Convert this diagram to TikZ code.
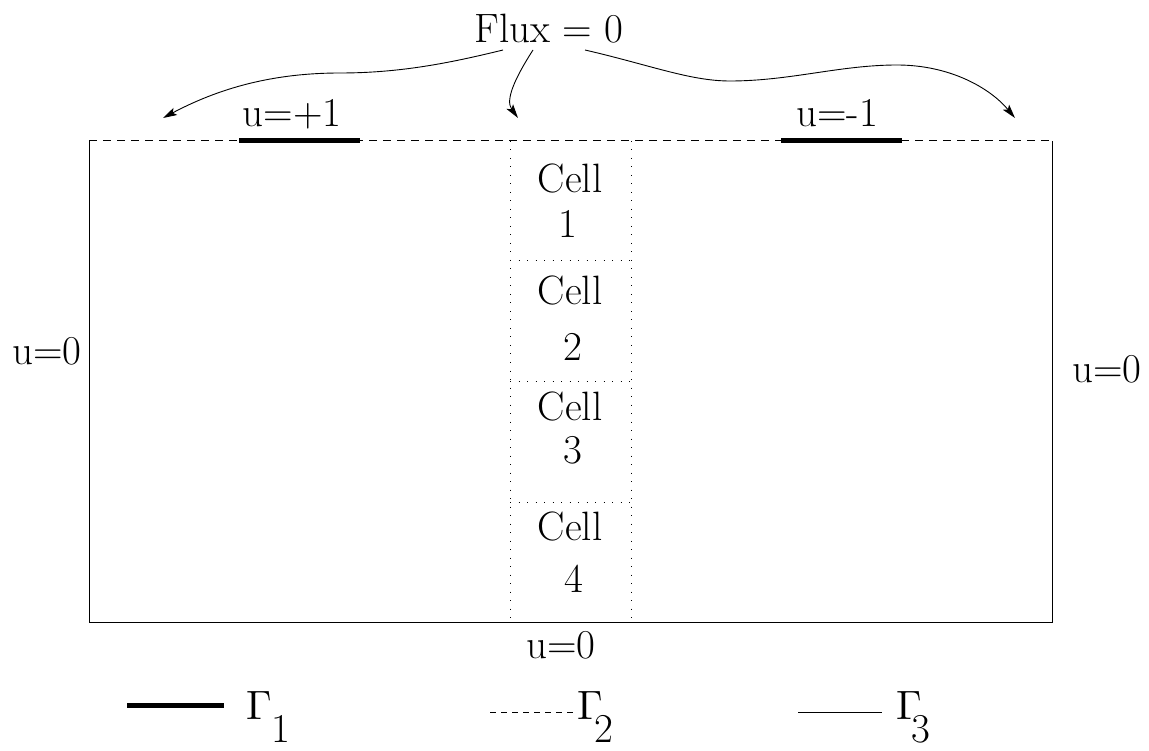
\documentclass[tikz,border=0pt]{standalone}
\usepackage{graphicx}
\usetikzlibrary{arrows.meta}
\newcommand{\bigGam}{\scalebox{4.1}{\normalsize$\Gamma$}}
\begin{document}
\begin{tikzpicture}[x=1pt,y=-1pt,
  lbl/.style={anchor=base,inner sep=0pt,font=\rmfamily\fontsize{41}{48}\selectfont},
  glbl/.style={anchor=base west,inner sep=0pt,font=\rmfamily\fontsize{41}{48}\selectfont},
  frame/.style={line width=1pt},
  dashline/.style={line width=1pt,dash pattern=on 8pt off 6pt},
  dotline/.style={line width=1pt,dash pattern=on 1pt off 7.5pt},
  thickseg/.style={line width=5pt},
  fluxarrow/.style={line width=0.9pt,-{Stealth[length=14pt,width=8pt,inset=3pt]}}
]
\useasboundingbox (0,0) rectangle (1149,751);

% domain
\draw[frame] (89,141) -- (89,622) -- (1052,622) -- (1052,141);
\draw[dashline] (89,141) -- (1052,141);
\draw[thickseg] (239,141) -- (360,141);
\draw[thickseg] (781,141) -- (902,141);

% cell column
\draw[dotline] (510,141) -- (510,622);
\draw[dotline] (631,141) -- (631,622);
\draw[dotline] (510,261) -- (631,261);
\draw[dotline] (510,381) -- (631,381);
\draw[dotline] (510,502) -- (631,502);

% labels
\node[lbl] (flux) at (549,43) {Flux = 0};
\node[lbl] (up) at (292,127) {u=+1};
\node[lbl] (um) at (837,127) {u=-1};
\node[lbl] (uleft) at (47,365) {u=0};
\node[lbl] (uright) at (1107,383) {u=0};
\node[lbl] (ubottom) at (561,658) {u=0};

\node[lbl] (c1a) at (570,193) {Cell};
\node[lbl] (c1b) at (568,238) {1};
\node[lbl] (c2a) at (570,305) {Cell};
\node[lbl] (c2b) at (573,360) {2};
\node[lbl] (c3a) at (570,420) {Cell};
\node[lbl] (c3b) at (573,463) {3};
\node[lbl] (c4a) at (570,540) {Cell};
\node[lbl] (c4b) at (574,592) {4};

% flux arrows
\coordinate (s1) at (503,50);
\coordinate (s2) at (533,50);
\coordinate (s3) at (585,50);
\coordinate (e1) at (163,118);
\coordinate (e2) at (518,118);
\coordinate (e3) at (1015,118);
\draw[fluxarrow] (s1) .. controls (450,63) and (400,73) .. (340,73)
                      .. controls (280,73) and (225,85) .. (e1);
\draw[fluxarrow] (s2) .. controls (515,78) and (505,100) .. (e2);
\draw[fluxarrow] (s3) .. controls (650,65) and (690,81) .. (730,81)
                      .. controls (790,81) and (840,65) .. (897,65)
                      .. controls (950,65) and (990,88) .. (e3);

% legend
\coordinate (l1a) at (127,705);
\coordinate (l1b) at (224,705);
\coordinate (l2a) at (490,712);
\coordinate (l2b) at (573,712);
\coordinate (l3a) at (798,712);
\coordinate (l3b) at (882,712);
\draw[thickseg] (l1a) -- (l1b);
\draw[line width=1pt,dash pattern=on 6pt off 5pt] (l2a) -- (l2b);
\draw[line width=1pt] (l3a) -- (l3b);
\node[glbl] (g1) at (246,719) {\bigGam\raisebox{-23pt}{1}};
\node[glbl] (g2) at (577,719) {\bigGam\kern-8pt\raisebox{-23pt}{2}};
\node[glbl] (g3) at (896,719) {\bigGam\kern-10pt\raisebox{-23pt}{3}};
\end{tikzpicture}
\end{document}
